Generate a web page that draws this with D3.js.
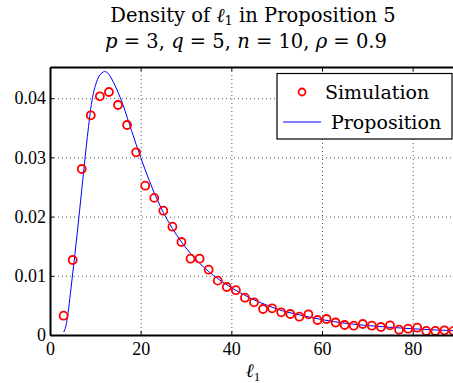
<!DOCTYPE html>
<html>
<head>
<meta charset="utf-8">
<script src="https://cdn.jsdelivr.net/npm/d3@7"></script>
<style>
  body { margin: 0; background: #fff; }
  svg { display: block; font-family: "DejaVu Serif", "Liberation Serif", serif; }
</style>
</head>
<body>
<svg id="chart" width="453" height="383"></svg>
<script>
// simulated density, l1 = 3,5,...,89
let sim_x = [3, 5, 7, 9, 11, 13, 15, 17, 19, 21, 23, 25, 27, 29, 31, 33, 35, 37, 39, 41,
  43, 45, 47, 49, 51, 53, 55, 57, 59, 61, 63, 65, 67, 69, 71, 73, 75, 77, 79, 81, 83, 85, 87, 89];
let sim_y = [0.00326, 0.01267, 0.02804, 0.03711, 0.04032, 0.04105, 0.03885, 0.03547, 0.03086, 0.02522,
  0.02316, 0.02100, 0.01830, 0.01571, 0.01289, 0.01289, 0.01103, 0.00918, 0.00811, 0.00757,
  0.00630, 0.00552, 0.00439, 0.00451, 0.00383, 0.00355, 0.00309, 0.00350, 0.00253, 0.00270,
  0.00211, 0.00169, 0.00157, 0.00186, 0.00157, 0.00135, 0.00164, 0.00090, 0.00106, 0.00123,
  0.00068, 0.00068, 0.00079, 0.00070];

// proposition curve
let prop_x = [3, 3.5, 4, 4.5, 5, 5.5, 6, 6.5, 7, 7.5, 8, 8.5, 9, 9.5, 10, 10.5, 11, 11.5, 12, 12.5,
  13, 14, 15, 16, 17, 18, 19, 20, 21, 22, 23, 24, 25, 26, 27, 28, 29, 30, 32, 34, 36, 38, 40,
  42, 44, 46, 48, 50, 55, 60, 65, 70, 75, 80, 85, 90];
let prop_y = [0.0005, 0.0015, 0.0038, 0.0070, 0.0103, 0.0137, 0.0172, 0.0208, 0.0245, 0.0282,
  0.0318, 0.0352, 0.0383, 0.0406, 0.0421, 0.0432, 0.0439, 0.0443, 0.0445, 0.0444,
  0.0440, 0.0427, 0.0410, 0.0391, 0.0368, 0.0345, 0.0322, 0.0300, 0.0279, 0.0259,
  0.0240, 0.0223, 0.0207, 0.0193, 0.0180, 0.0168, 0.0157, 0.0147, 0.0129, 0.0114,
  0.0101, 0.0090, 0.0080, 0.0071, 0.0063, 0.0056, 0.0050, 0.0044, 0.0034, 0.0026,
  0.0020, 0.0016, 0.0013, 0.00105, 0.00085, 0.0007];

let x_ticks = [0, 20, 40, 60, 80];
let y_ticks = [0, 0.01, 0.02, 0.03, 0.04];

let svg = d3.select('#chart');
let layout = { left: 50, top: 67, right: 458, bottom: 335 };

let x = d3.scaleLinear().domain([0, 90]).range([layout.left, layout.right]);
let y = d3.scaleLinear().domain([0, 0.04527]).range([layout.bottom, layout.top]);

// grid
let grid = svg.append('g').attr('stroke', '#555').attr('stroke-width', 1).attr('stroke-dasharray', '1,3');
grid.selectAll('line.gx').data(x_ticks.slice(1)).enter().append('line')
  .attr('x1', d => x(d) + 0.5).attr('x2', d => x(d) + 0.5)
  .attr('y1', layout.top).attr('y2', layout.bottom);
grid.selectAll('line.gy').data(y_ticks.slice(1)).enter().append('line')
  .attr('x1', layout.left).attr('x2', layout.right)
  .attr('y1', d => y(d) + 0.5).attr('y2', d => y(d) + 0.5);

// curve
let line = d3.line().x((d, i) => x(prop_x[i])).y(d => y(d)).curve(d3.curveMonotoneX);
svg.append('path').datum(prop_y).attr('d', line)
  .attr('fill', 'none').attr('stroke', '#0000ff').attr('stroke-width', 1);

// simulation markers
svg.append('g').selectAll('circle').data(sim_y).enter().append('circle')
  .attr('cx', (d, i) => x(sim_x[i])).attr('cy', d => y(d)).attr('r', 4)
  .attr('fill', 'none').attr('stroke', '#ff0000').attr('stroke-width', 1.8);

// axes
let axis_x = svg.append('g').attr('transform', 'translate(0,' + layout.bottom + ')')
  .call(d3.axisBottom(x).tickValues(x_ticks).tickSizeInner(-4).tickSizeOuter(0).tickPadding(7));
let axis_x_top = svg.append('g').attr('transform', 'translate(0,' + layout.top + ')')
  .call(d3.axisTop(x).tickValues(x_ticks).tickSizeInner(-4).tickSizeOuter(0).tickFormat(''));
let axis_y = svg.append('g').attr('transform', 'translate(' + layout.left + ',0)')
  .call(d3.axisLeft(y).tickValues(y_ticks).tickSizeInner(-4).tickSizeOuter(0).tickPadding(4)
    .tickFormat(d => d === 0 ? '0' : d3.format('.2f')(d)));
[axis_x, axis_x_top, axis_y].forEach(a => {
  a.select('.domain').attr('stroke', '#000').attr('stroke-width', 2);
  a.selectAll('.tick line').attr('stroke', '#000');
  a.selectAll('text').attr('font-family', '"Liberation Serif", serif').attr('font-size', 18).attr('fill', '#000');
});

// x label
svg.append('text').attr('x', 253).attr('y', 377).attr('text-anchor', 'middle')
  .attr('font-family', '"Liberation Serif", serif')
  .attr('font-size', 19).attr('font-style', 'italic')
  .html('ℓ<tspan font-size="13" dy="4" font-style="normal">1</tspan>');

// title
let title = svg.append('g').attr('font-size', 19.5).attr('text-anchor', 'middle').attr('fill', '#000');
title.append('text').attr('x', 253).attr('y', 22)
  .html('Density of <tspan font-style="italic">ℓ</tspan><tspan font-size="13" dy="3">1</tspan><tspan dy="-3"> in Proposition 5</tspan>');
title.append('text').attr('x', 246).attr('y', 47.5)
  .html('<tspan font-style="italic">p</tspan> = 3, <tspan font-style="italic">q</tspan> = 5, <tspan font-style="italic">n</tspan> = 10, <tspan font-style="italic">ρ</tspan> = 0.9');

// legend
let legend = svg.append('g');
legend.append('rect').attr('x', 277).attr('y', 73.5).attr('width', 175).attr('height', 65.5)
  .attr('fill', '#fff').attr('stroke', '#000').attr('stroke-width', 1.2);
legend.append('circle').attr('cx', 302).attr('cy', 92).attr('r', 3.5)
  .attr('fill', 'none').attr('stroke', '#ff0000').attr('stroke-width', 1.8);
legend.append('text').attr('x', 325).attr('y', 99).attr('font-size', 19).text('Simulation');
legend.append('line').attr('x1', 283).attr('x2', 321).attr('y1', 122).attr('y2', 122)
  .attr('stroke', '#0000ff').attr('stroke-width', 1);
legend.append('text').attr('x', 331).attr('y', 129).attr('font-size', 19).text('Proposition');
</script>
</body>
</html>
